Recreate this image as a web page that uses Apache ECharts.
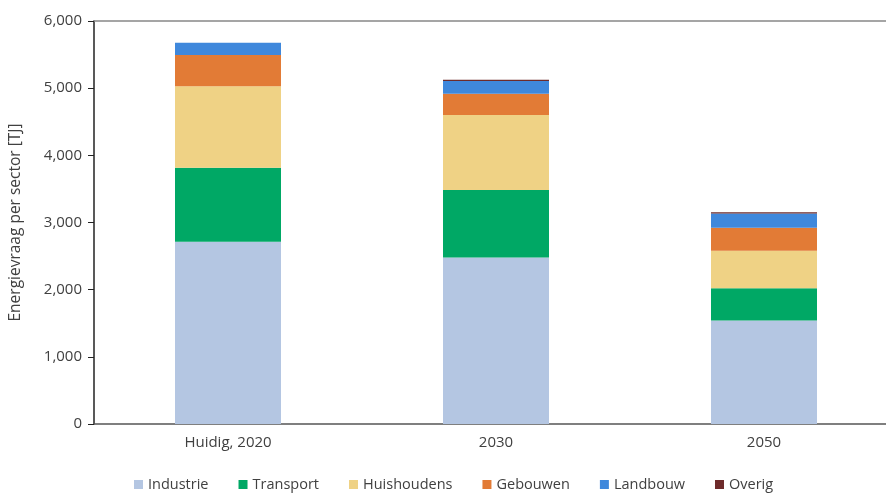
<!DOCTYPE html>
<html>
<head>
<meta charset="utf-8">
<script src="https://cdn.jsdelivr.net/npm/echarts@6/dist/echarts.min.js"></script>
<style>html,body{margin:0;padding:0;background:#fff;overflow:hidden}#c{width:900px;height:498px}</style>
</head>
<body>
<div id="c"></div>
<script>
var categories = ['Huidig, 2020', '2030', '2050'];
var industrie   = [2715, 2480, 1540];
var transport   = [1100, 1005, 480];
var huishoudens = [1215, 1115, 560];
var gebouwen    = [462, 317, 343];
var landbouw    = [183, 190, 212];
var overig      = [0, 18, 18];
var seriesNames = ['Industrie', 'Transport', 'Huishoudens', 'Gebouwen', 'Landbouw', 'Overig'];
var seriesData = [industrie, transport, huishoudens, gebouwen, landbouw, overig];
var colors = ['#b4c6e2', '#00a865', '#efd285', '#e27b36', '#3f88dc', '#6e2b2b'];

var chart = echarts.init(document.getElementById('c'));
var txt = '#404040';
var font = 'Open Sans';
chart.setOption({
  animation: false,
  textStyle: { fontFamily: font },
  grid: { left: 94, top: 21, right: 2, bottom: 74, containLabel: false },
  legend: {
    bottom: 1, left: 129,
    itemWidth: 9, itemHeight: 9, itemGap: 30,
    icon: 'rect',
    textStyle: { color: txt, fontSize: 14.5, fontFamily: font },
    data: seriesNames
  },
  xAxis: [{
    type: 'category', data: categories,
    axisLine: { lineStyle: { color: '#555', width: 1.5 } },
    axisTick: { alignWithLabel: true, length: 4, lineStyle: { color: '#555' } },
    axisLabel: { color: txt, fontSize: 15, margin: 11, fontFamily: font }
  }, {
    type: 'category', data: categories, position: 'top',
    axisLine: { show: true, lineStyle: { color: '#888', width: 1.5 } },
    axisTick: { show: false }, axisLabel: { show: false }
  }],
  yAxis: {
    type: 'value', min: 0, max: 6000, interval: 1000,
    name: 'Energievraag per sector [TJ]', nameLocation: 'middle', nameGap: 70,
    nameTextStyle: { color: txt, fontSize: 15.5, fontFamily: font },
    axisLine: { show: true, lineStyle: { color: '#222', width: 1.5 } },
    axisTick: { show: true, length: 6, lineStyle: { color: '#222' } },
    splitLine: { show: false },
    axisLabel: {
      color: txt, fontSize: 15, margin: 12, fontFamily: font,
      formatter: function (v) { return v.toLocaleString('en-US'); }
    }
  },
  series: seriesNames.map(function (n, i) {
    return {
      name: n, type: 'bar', stack: 'total', barWidth: 106,
      data: seriesData[i], itemStyle: { color: colors[i] }
    };
  })
});
</script>
</body>
</html>
